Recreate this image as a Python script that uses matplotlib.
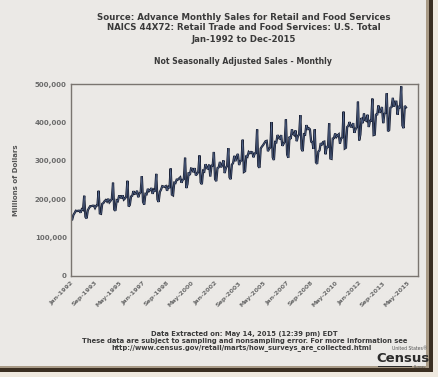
import matplotlib
matplotlib.use("Agg")
import matplotlib.pyplot as plt
from matplotlib.patches import Rectangle
import numpy as np

# Monthly sales, millions of dollars (Jan-1992 .. Apr-2015), values in thousands of millions
sales_1992 = [146, 147, 159, 164, 170, 169, 170, 170, 165, 174, 172, 209]
sales_1993 = [154, 150, 171, 177, 182, 182, 183, 183, 177, 183, 184, 222]
sales_1994 = [163, 162, 188, 190, 195, 198, 194, 201, 192, 196, 201, 243]
sales_1995 = [173, 170, 197, 195, 208, 208, 202, 210, 199, 202, 207, 248]
sales_1996 = [181, 185, 207, 209, 221, 214, 215, 222, 205, 215, 218, 260]
sales_1997 = [193, 186, 214, 213, 227, 221, 224, 229, 214, 224, 220, 266]
sales_1998 = [199, 193, 219, 225, 234, 233, 232, 234, 222, 232, 229, 280]
sales_1999 = [212, 210, 243, 242, 251, 251, 254, 257, 243, 250, 253, 308]
sales_2000 = [229, 239, 270, 263, 280, 279, 270, 281, 262, 266, 271, 314]
sales_2001 = [244, 239, 274, 272, 291, 284, 278, 290, 259, 287, 288, 323]
sales_2002 = [252, 247, 281, 283, 297, 283, 290, 301, 268, 281, 287, 333]
sales_2003 = [257, 252, 290, 294, 313, 299, 311, 318, 289, 299, 301, 355]
sales_2004 = [271, 273, 314, 311, 323, 320, 323, 322, 309, 319, 320, 382]
sales_2005 = [286, 282, 332, 337, 341, 346, 351, 352, 325, 331, 335, 401]
sales_2006 = [309, 302, 349, 348, 367, 362, 356, 367, 339, 344, 350, 408]
sales_2007 = [316, 308, 363, 357, 382, 370, 367, 379, 351, 364, 369, 419]
sales_2008 = [331, 325, 369, 368, 393, 381, 385, 382, 350, 349, 331, 382]
sales_2009 = [296, 292, 324, 327, 346, 341, 349, 350, 317, 338, 334, 398]
sales_2010 = [306, 305, 358, 359, 371, 362, 366, 369, 345, 358, 361, 428]
sales_2011 = [332, 334, 388, 391, 401, 389, 389, 398, 373, 382, 388, 454]
sales_2012 = [353, 368, 412, 398, 423, 406, 404, 420, 388, 404, 404, 462]
sales_2013 = [367, 368, 422, 419, 444, 425, 431, 440, 398, 422, 425, 476]
sales_2014 = [377, 380, 438, 440, 464, 441, 454, 454, 420, 443, 437, 494]
sales_2015 = [392, 385, 443, 439]

tick_labels = ["Jan-1992", "Sep-1993", "May-1995", "Jan-1997", "Sep-1998",
               "May-2000", "Jan-2002", "Sep-2003", "May-2005", "Jan-2007",
               "Sep-2008", "May-2010", "Jan-2012", "Sep-2013", "May-2015"]
y_ticks = [0, 100000, 200000, 300000, 400000, 500000]

series = (sales_1992 + sales_1993 + sales_1994 + sales_1995 + sales_1996 + sales_1997 +
          sales_1998 + sales_1999 + sales_2000 + sales_2001 + sales_2002 + sales_2003 +
          sales_2004 + sales_2005 + sales_2006 + sales_2007 + sales_2008 + sales_2009 +
          sales_2010 + sales_2011 + sales_2012 + sales_2013 + sales_2014 + sales_2015)
values = np.array(series) * 1000
months = np.arange(len(values))

bg = "#ebe9e6"
fig = plt.figure(figsize=(4.39, 3.77), dpi=100, facecolor=bg)

# photo frame on right and bottom
fig.patches.append(Rectangle((432/439, 0), 7/439, 1, transform=fig.transFigure,
                             facecolor="#efe9df", edgecolor="none", zorder=0))
fig.patches.append(Rectangle((0, 0), 1, 5/377, transform=fig.transFigure,
                             facecolor="#efe9df", edgecolor="none", zorder=0))
fig.patches.append(Rectangle((429/439, 5/377), 4/439, 1 - 5/377, transform=fig.transFigure,
                             facecolor="#3b2f22", edgecolor="none", zorder=1))
fig.patches.append(Rectangle((0, 5/377), 433/439, 4/377, transform=fig.transFigure,
                             facecolor="#3b2f22", edgecolor="none", zorder=1))
fig.patches.append(Rectangle((426/439, 9/377), 3/439, 1 - 9/377, transform=fig.transFigure,
                             facecolor="#a89a86", edgecolor="none", zorder=1))
fig.patches.append(Rectangle((0, 9/377), 429/439, 2/377, transform=fig.transFigure,
                             facecolor="#a89a86", edgecolor="none", zorder=1))

ax = fig.add_axes([71/439, 1 - 276/377, (418 - 71)/439, (276 - 84)/377], facecolor=bg)
ax.plot(months, values, color="#1b2236", lw=1.6, solid_joinstyle="miter")
ax.plot(months, values, color="#5a6e96", lw=0.4, solid_joinstyle="miter")

ax.set_xlim(0, 289)
ax.set_ylim(0, 500000)
ax.set_yticks(y_ticks)
ax.set_yticklabels([f"{v:,}" for v in y_ticks], fontsize=5, fontweight="bold", color="#6b6b6b")
ax.set_xticks(np.arange(len(tick_labels)) * 20)
ax.set_xticklabels(tick_labels, rotation=45, ha="right", rotation_mode="anchor",
                   fontsize=4.6, fontweight="bold", color="#6b6b6b")
ax.tick_params(length=0, pad=3)
for s in ax.spines.values():
    s.set_color("#7a7570")
    s.set_linewidth(1.0)
ax.set_ylabel("Millions of Dollars", fontsize=5, fontweight="bold", color="#555555")
ax.yaxis.set_label_coords(-0.15, 0.5)

tc = "#3a3a3a"
fig.text(244/439, 1 - 17/377, "Source: Advance Monthly Sales for Retail and Food Services",
         ha="center", va="center", fontsize=6.2, fontweight="bold", color=tc)
fig.text(244/439, 1 - 28/377, "NAICS 44X72: Retail Trade and Food Services: U.S. Total",
         ha="center", va="center", fontsize=6.2, fontweight="bold", color=tc)
fig.text(244/439, 1 - 39/377, "Jan-1992 to Dec-2015",
         ha="center", va="center", fontsize=6.2, fontweight="bold", color=tc)
fig.text(243/439, 1 - 62/377, "Not Seasonally Adjusted Sales - Monthly",
         ha="center", va="center", fontsize=5.6, fontweight="bold", color=tc)
fig.text(244/439, 1 - 334/377, "Data Extracted on: May 14, 2015 (12:39 pm) EDT",
         ha="center", va="center", fontsize=4.9, fontweight="bold", color=tc)
fig.text(245/439, 1 - 341/377,
         "These data are subject to sampling and nonsampling error. For more information see",
         ha="center", va="center", fontsize=4.9, fontweight="bold", color=tc)
fig.text(242/439, 1 - 347.5/377,
         "http://www.census.gov/retail/marts/how_surveys_are_collected.html",
         ha="center", va="center", fontsize=4.9, fontweight="bold", color=tc)

# Census logo
fig.text(410/439, 1 - 348/377, "United States\u00ae", ha="center", va="center",
         fontsize=3.3, color="#555555")
fig.text(403/439, 1 - 358/377, "Census", ha="center", va="center",
         fontsize=9.5, fontweight="bold", color="#2b2b2b", family="DejaVu Sans Condensed")
fig.patches.append(Rectangle((378/439, 1 - 367/377), 34/439, 1.5/377, transform=fig.transFigure,
                             facecolor="#2b2b2b", edgecolor="none", zorder=2))
fig.text(420/439, 1 - 366.5/377, "Bureau", ha="center", va="center", fontsize=2.5, color="#555555")

fig.savefig("out.png", dpi=100, facecolor=bg)
